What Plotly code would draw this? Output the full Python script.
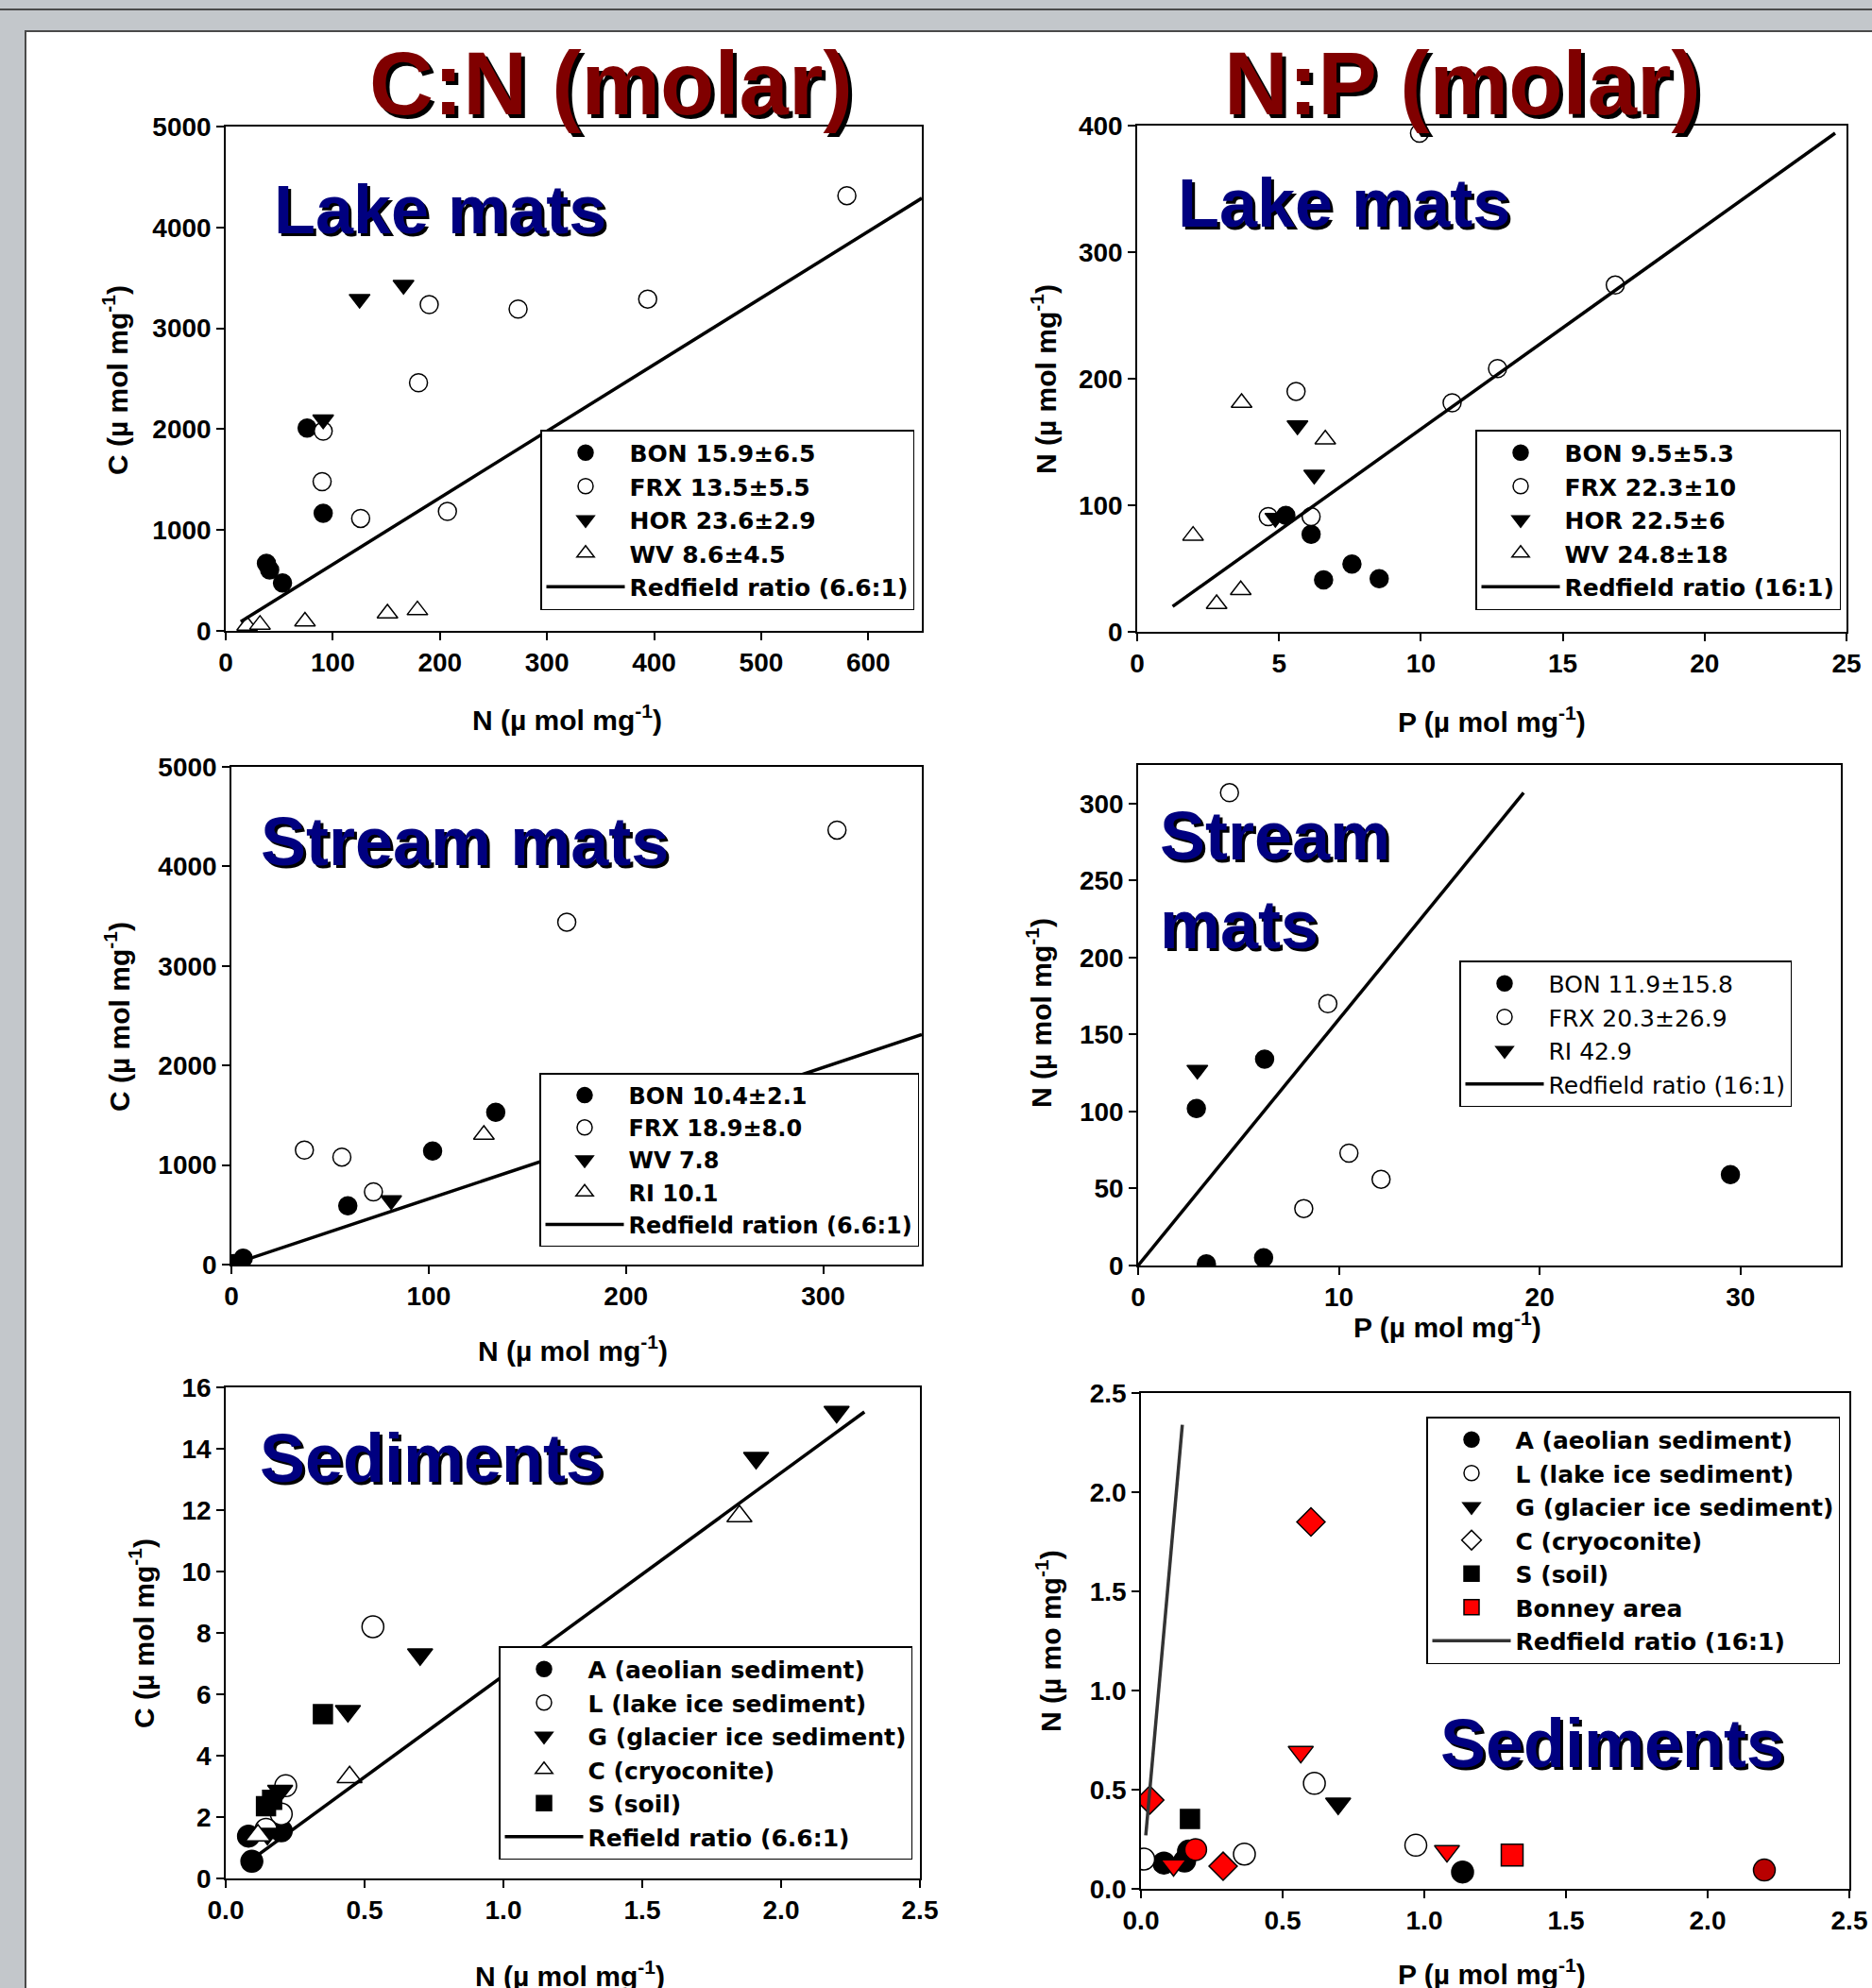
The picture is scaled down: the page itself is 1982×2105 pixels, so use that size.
import plotly.graph_objects as go

W, H = 1982, 2105
FONT = "Liberation Sans, Arial, sans-serif"
LEGFONT = "DejaVu Sans, Liberation Sans, sans-serif"

# ---------------- DATA ----------------
# Panel 1: C:N lake mats  (N, C in umol/mg)
cn_lake_bon_n = [76, 91, 38, 41, 53]
cn_lake_bon_c = [2010, 1165, 670, 605, 475]
cn_lake_frx_n = [580, 190, 273, 394, 180, 91, 90, 126, 207]
cn_lake_frx_c = [4315, 3235, 3190, 3290, 2460, 1980, 1480, 1115, 1185]
cn_lake_hor_n = [125, 166, 91]
cn_lake_hor_c = [3290, 3430, 2095]
cn_lake_wv_n = [20, 32, 74, 151, 179]
cn_lake_wv_c = [52, 62, 94, 173, 205]
cn_lake_red_n = [14, 650]
cn_lake_red_c = [92, 4290]

# Panel 2: N:P lake mats  (P, N)
np_lake_bon_p = [5.24, 6.13, 6.57, 7.57, 8.53]
np_lake_bon_n = [92, 77, 41, 53.5, 42]
np_lake_frx_p = [9.95, 16.85, 12.7, 11.1, 5.6, 4.62, 6.13]
np_lake_frx_n = [394, 274, 208, 181, 190, 91, 91]
np_lake_hor_p = [5.65, 6.24, 4.87]
np_lake_hor_n = [163, 124, 90]
np_lake_wv_p = [3.68, 6.63, 1.97, 3.65, 2.8]
np_lake_wv_n = [181, 152, 76, 33, 22]
np_lake_red_p = [1.25, 24.6]
np_lake_red_n = [20, 394]

# Panel 3: C:N stream mats
cn_stream_bon_n = [1, 6, 59, 102, 134]
cn_stream_bon_c = [10, 65, 590, 1140, 1530]
cn_stream_frx_n = [307, 170, 37, 56, 72]
cn_stream_frx_c = [4365, 3440, 1150, 1080, 730]
cn_stream_wv_n = [81]
cn_stream_wv_c = [645]
cn_stream_ri_n = [128]
cn_stream_ri_c = [1305]
cn_stream_red_n = [0, 350]
cn_stream_red_c = [0, 2310]

# Panel 4: N:P stream mats
np_stream_bon_p = [2.9, 6.3, 3.4, 6.25, 29.5]
np_stream_bon_n = [102, 134, 1, 5, 59]
np_stream_frx_p = [4.55, 9.45, 10.5, 12.1, 8.25]
np_stream_frx_n = [307, 170, 73, 56, 37]
np_stream_ri_p = [2.95]
np_stream_ri_n = [127]
np_stream_red_p = [0, 19.2]
np_stream_red_n = [0, 307]

# Panel 5: C:N sediments
cn_sed_a_n = [0.094, 0.082, 0.2]
cn_sed_a_c = [0.56, 1.38, 1.55]
cn_sed_l_n = [0.53, 0.216, 0.2, 0.145]
cn_sed_l_c = [8.2, 3.02, 2.1, 1.6]
cn_sed_g_n = [2.2, 1.91, 0.7, 0.44, 0.196, 0.15]
cn_sed_g_c = [15.2, 13.7, 7.3, 5.45, 2.85, 1.45]
cn_sed_c_n = [1.85, 0.446, 0.116]
cn_sed_c_c = [11.8, 3.3, 1.4]
cn_sed_s_n = [0.35, 0.145, 0.167]
cn_sed_s_c = [5.35, 2.35, 2.56]
cn_sed_red_n = [0.1, 2.3]
cn_sed_red_c = [0.66, 15.2]

# Panel 6: N:P sediments
np_sed_a_p = [1.135, 0.081, 0.154, 0.168]
np_sed_a_n = [0.085, 0.13, 0.14, 0.19]
np_sed_l_p = [0.01, 0.365, 0.612, 0.97]
np_sed_l_n = [0.15, 0.175, 0.532, 0.22]
np_sed_g_p = [0.696]
np_sed_g_n = [0.43]
np_sed_c_p = [None]
np_sed_c_n = [None]
np_sed_s_p = [0.173]
np_sed_s_n = [0.352]
np_bonney_p = [1.31, 0.6, 0.031, 0.29, 0.564, 1.08, 0.115, 0.193, 2.2]
np_bonney_n = [0.17, 1.85, 0.448, 0.114, 0.69, 0.19, 0.119, 0.198, 0.095]
np_bonney_type = ["S", "C", "C", "C", "G", "G", "G", "A", "A"]
np_sed_red_p = [0.017, 0.146]
np_sed_red_n = [0.27, 2.34]

# ---------------- LAYOUT HELPERS ----------------
def px_x(v):
    return v / W

def px_y(v):
    return 1 - v / H

panels = [
    dict(xp=(239, 976), yp=(134, 668), xr=[0, 650], yr=[0, 5000], xd=100, yd=1000, xf="", yf=""),
    dict(xp=(1204, 1955), yp=(133, 669), xr=[0, 25], yr=[0, 400], xd=5, yd=100, xf="", yf=""),
    dict(xp=(245, 976), yp=(812, 1339), xr=[0, 350], yr=[0, 5000], xd=100, yd=1000, xf="", yf=""),
    dict(xp=(1205, 1949), yp=(810, 1340), xr=[0, 35], yr=[0, 325], xd=10, yd=50, xf="", yf=""),
    dict(xp=(239, 974), yp=(1469, 1989), xr=[0, 2.5], yr=[0, 16], xd=0.5, yd=2, xf=".1f", yf=""),
    dict(xp=(1208, 1958), yp=(1475, 2000), xr=[0, 2.5], yr=[0, 2.5], xd=0.5, yd=0.5, xf=".1f", yf=".1f"),
]

tickfont = dict(family=FONT, size=28, color="black", weight="bold")
layout_axes = {}
for i, p in enumerate(panels, start=1):
    sfx = "" if i == 1 else str(i)
    common = dict(showline=True, linecolor="black", linewidth=1.5, mirror=True,
                  ticks="outside", ticklen=8, tickwidth=1.5, tickcolor="black",
                  showgrid=False, zeroline=False, tickfont=tickfont, fixedrange=True,
                  automargin=False)
    layout_axes["xaxis" + sfx] = dict(domain=[px_x(p["xp"][0]), px_x(p["xp"][1])], range=p["xr"],
                                     anchor="y" + sfx, dtick=p["xd"], tick0=0, tickformat=p["xf"], **common)
    layout_axes["yaxis" + sfx] = dict(domain=[px_y(p["yp"][1]), px_y(p["yp"][0])], range=p["yr"],
                                     anchor="x" + sfx, dtick=p["yd"], tick0=0, tickformat=p["yf"], **common)

fig = go.Figure()

def pts(x, y, name, sym, filled, ax, leg, size=19, color="black", showlegend=True):
    sfx = "" if ax == 1 else str(ax)
    fig.add_trace(go.Scatter(
        x=x, y=y, mode="markers", name=name, legend=leg, showlegend=showlegend,
        xaxis="x" + sfx, yaxis="y" + sfx,
        marker=dict(symbol=sym, size=size, color=color if filled else "white",
                    line=dict(color="black", width=1.5)),
    ))

def red_line(x, y, name, ax, leg, color="black"):
    sfx = "" if ax == 1 else str(ax)
    fig.add_trace(go.Scatter(
        x=x, y=y, mode="lines", name=name, legend=leg,
        xaxis="x" + sfx, yaxis="y" + sfx, line=dict(color=color, width=3.5),
    ))

# Panel 1
pts(cn_lake_bon_n, cn_lake_bon_c, "BON 15.9±6.5", "circle", True, 1, "legend")
pts(cn_lake_frx_n, cn_lake_frx_c, "FRX 13.5±5.5", "circle", False, 1, "legend")
pts(cn_lake_hor_n, cn_lake_hor_c, "HOR 23.6±2.9", "triangle-down", True, 1, "legend")
pts(cn_lake_wv_n, cn_lake_wv_c, "WV 8.6±4.5", "triangle-up", False, 1, "legend")
red_line(cn_lake_red_n, cn_lake_red_c, "Redfield ratio (6.6:1)", 1, "legend")

# Panel 2
pts(np_lake_bon_p, np_lake_bon_n, "BON 9.5±5.3", "circle", True, 2, "legend2")
pts(np_lake_frx_p, np_lake_frx_n, "FRX 22.3±10", "circle", False, 2, "legend2")
pts(np_lake_hor_p, np_lake_hor_n, "HOR 22.5±6", "triangle-down", True, 2, "legend2")
pts(np_lake_wv_p, np_lake_wv_n, "WV 24.8±18", "triangle-up", False, 2, "legend2")
red_line(np_lake_red_p, np_lake_red_n, "Redfield ratio (16:1)", 2, "legend2")

# Panel 3
pts(cn_stream_bon_n, cn_stream_bon_c, "BON 10.4±2.1", "circle", True, 3, "legend3")
pts(cn_stream_frx_n, cn_stream_frx_c, "FRX 18.9±8.0", "circle", False, 3, "legend3")
pts(cn_stream_wv_n, cn_stream_wv_c, "WV 7.8", "triangle-down", True, 3, "legend3")
pts(cn_stream_ri_n, cn_stream_ri_c, "RI 10.1", "triangle-up", False, 3, "legend3")
red_line(cn_stream_red_n, cn_stream_red_c, "Redfield ration (6.6:1)", 3, "legend3")

# Panel 4
pts(np_stream_bon_p, np_stream_bon_n, "BON 11.9±15.8", "circle", True, 4, "legend4")
pts(np_stream_frx_p, np_stream_frx_n, "FRX 20.3±26.9", "circle", False, 4, "legend4")
pts(np_stream_ri_p, np_stream_ri_n, "RI 42.9", "triangle-down", True, 4, "legend4")
red_line(np_stream_red_p, np_stream_red_n, "Redfield ratio (16:1)", 4, "legend4")

# Panel 5
pts(cn_sed_a_n, cn_sed_a_c, "A (aeolian sediment)", "circle", True, 5, "legend5", size=23)
pts(cn_sed_l_n, cn_sed_l_c, "L (lake ice sediment)", "circle", False, 5, "legend5", size=23)
pts(cn_sed_g_n, cn_sed_g_c, "G (glacier ice sediment)", "triangle-down", True, 5, "legend5", size=23)
pts(cn_sed_c_n, cn_sed_c_c, "C (cryoconite)", "triangle-up", False, 5, "legend5", size=23)
pts(cn_sed_s_n, cn_sed_s_c, "S (soil)", "square", True, 5, "legend5", size=20)
red_line(cn_sed_red_n, cn_sed_red_c, "Refield ratio (6.6:1)", 5, "legend5")

# Panel 6
pts(np_sed_a_p, np_sed_a_n, "A (aeolian sediment)", "circle", True, 6, "legend6", size=23)
pts(np_sed_l_p, np_sed_l_n, "L (lake ice sediment)", "circle", False, 6, "legend6", size=23)
pts(np_sed_g_p, np_sed_g_n, "G (glacier ice sediment)", "triangle-down", True, 6, "legend6", size=23)
pts(np_sed_c_p, np_sed_c_n, "C (cryoconite)", "diamond", False, 6, "legend6", size=23)
pts(np_sed_s_p, np_sed_s_n, "S (soil)", "square", True, 6, "legend6", size=20)
sym_map = {"S": "square", "C": "diamond", "G": "triangle-down", "A": "circle"}
bonney_syms = [sym_map[t] for t in np_bonney_type]
bonney_cols = ["#ff0000"] * (len(np_bonney_p) - 1) + ["#b80000"]
fig.add_trace(go.Scatter(
    x=np_bonney_p, y=np_bonney_n, mode="markers", name="Bonney area", legend="legend6",
    xaxis="x6", yaxis="y6",
    marker=dict(symbol=bonney_syms, size=23, color=bonney_cols, line=dict(color="black", width=1.5)),
))
red_line(np_sed_red_p, np_sed_red_n, "Redfield ratio (16:1)", 6, "legend6", color="#333333")

# ---------------- LEGENDS ----------------
def legend_cfg(left, top, bold=True, size=25):
    return dict(x=px_x(left), y=px_y(top), xanchor="left", yanchor="top",
                bgcolor="white", bordercolor="black", borderwidth=1.5,
                font=dict(family=LEGFONT, size=size, color="black", weight="bold" if bold else "normal"),
                itemwidth=83, tracegroupgap=0, traceorder="normal")

legends = dict(
    legend=legend_cfg(572, 455),
    legend2=legend_cfg(1562, 455),
    legend3=legend_cfg(571, 1136, size=24),
    legend4=legend_cfg(1545, 1017, bold=False),
    legend5=legend_cfg(528, 1743),
    legend6=legend_cfg(1510, 1500),
)

# ---------------- ANNOTATIONS ----------------
annotations = []

def shadow_text(text, x, y, size, color, anchor="center", off=4):
    for dx, col in ((off, "black"), (0, color)):
        annotations.append(dict(
            text=text, x=px_x(x + dx), y=px_y(y + dx), xref="paper", yref="paper",
            xanchor=anchor, yanchor="middle", showarrow=False, align="left",
            font=dict(family=FONT, size=size, color=col, weight="bold")))

shadow_text("C:N (molar)", 647, 88, 94, "#800000")
shadow_text("N:P (molar)", 1548, 88, 94, "#800000")

NAVY = "#000080"
shadow_text("Lake mats", 288, 222, 72, NAVY, anchor="left", off=3)
shadow_text("Lake mats", 1245, 215, 72, NAVY, anchor="left", off=3)
shadow_text("Stream mats", 274, 891, 72, NAVY, anchor="left", off=3)
shadow_text("Stream<br>mats", 1226, 932, 72, NAVY, anchor="left", off=3)
shadow_text("Sediments", 273, 1544, 72, NAVY, anchor="left", off=3)
shadow_text("Sediments", 1523, 1846, 72, NAVY, anchor="left", off=3)

axfont = dict(family=FONT, size=30, color="black", weight="bold")

def ax_title(text, x, y, vertical=False):
    annotations.append(dict(
        text=text, x=px_x(x), y=px_y(y), xref="paper", yref="paper",
        xanchor="center", yanchor="middle", showarrow=False,
        textangle=-90 if vertical else 0, font=axfont))

ax_title("C (µ mol mg<sup>-1</sup>)", 122, 403, True)
ax_title("N (µ mol mg<sup>-1</sup>)", 600, 760)
ax_title("N (µ mol mg<sup>-1</sup>)", 1105, 402, True)
ax_title("P (µ mol mg<sup>-1</sup>)", 1579, 762)
ax_title("C (µ mol mg<sup>-1</sup>)", 124, 1077, True)
ax_title("N (µ mol mg<sup>-1</sup>)", 606, 1428)
ax_title("N (µ mol mg<sup>-1</sup>)", 1100, 1073, True)
ax_title("P (µ mol mg<sup>-1</sup>)", 1532, 1403)
ax_title("C (µ mol mg<sup>-1</sup>)", 150, 1730, True)
ax_title("N (µ mol mg<sup>-1</sup>)", 603, 2090)
ax_title("N (µ mo mg<sup>-1</sup>)", 1110, 1738, True)
ax_title("P (µ mol mg<sup>-1</sup>)", 1579, 2088)

# ---------------- BACKGROUND ----------------
shapes = [
    dict(type="rect", xref="paper", yref="paper", x0=px_x(27), x1=1.01, y0=-0.01, y1=px_y(33),
         fillcolor="white", line=dict(color="#4a4a4a", width=2), layer="below"),
    dict(type="line", xref="paper", yref="paper", x0=0, x1=1, y0=px_y(10), y1=px_y(10),
         line=dict(color="#4a4a4a", width=2), layer="below"),
]

fig.update_layout(
    width=W, height=H, margin=dict(l=0, r=0, t=0, b=0, pad=0, autoexpand=False),
    paper_bgcolor="#c3c7cb", plot_bgcolor="white",
    showlegend=True, annotations=annotations, shapes=shapes,
    **layout_axes, **legends,
)

fig.write_html("out.html", post_script="document.body.style.margin='0';document.body.style.padding='0';")
